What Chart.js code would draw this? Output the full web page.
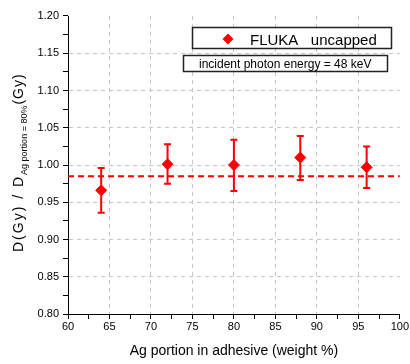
<!DOCTYPE html>
<html>
<head>
<meta charset="utf-8">
<script src="https://cdn.jsdelivr.net/npm/chart.js@4.4.1/dist/chart.umd.min.js"></script>
<style>
  html, body { margin: 0; padding: 0; background: #fff; }
  #wrap { width: 410px; height: 364px; }
</style>
</head>
<body>
<div id="wrap"><canvas id="chart" width="410" height="364"></canvas></div>
<script>
// ===== DATA =====
const agPortion  = [64, 72, 80, 88, 96];
const doseRatio  = [0.966, 1.001, 1.000, 1.010, 0.997];
const errLow     = [0.936, 0.975, 0.965, 0.980, 0.969];
const errHigh    = [0.996, 1.028, 1.034, 1.039, 1.025];
const meanLineX  = [60, 100];
const meanLineY  = [0.985, 0.985];
const xLimits    = [60, 100];
const yLimits    = [0.80, 1.20];
const legendLabel = "FLUKA   uncapped";
const noteLabel   = "incident photon energy = 48 keV";
const xTitle      = "Ag portion in adhesive (weight %)";
const yTitleMain  = "D(Gy) / D";
const yTitleSub   = "Ag portion = 80%";
const yTitleEnd   = "(Gy)";

const RED  = "#ff0000";
const GRID = "#c4c4c4";
const SANS = '"Liberation Sans", Arial, sans-serif';
const NARROW = '"Liberation Sans Narrow", "Liberation Sans", Arial, sans-serif';

// major ticks get grid lines, minor ones only a tick mark
function gridColor(ctx) {
  const n = ctx.scale.ticks.length;
  if (ctx.index === 0 || ctx.index === n - 1) return "rgba(0,0,0,0)";
  return ctx.index % 2 === 0 ? GRID : "rgba(0,0,0,0)";
}

// ===== PLUGINS =====
const errorBars = {
  id: "errorBars",
  beforeDatasetsDraw(chart) {
    const { ctx, scales: { x, y } } = chart;
    ctx.save();
    ctx.strokeStyle = RED;
    ctx.lineWidth = 2;
    agPortion.forEach((v, i) => {
      const px = x.getPixelForValue(v);
      const top = y.getPixelForValue(errHigh[i]);
      const bot = y.getPixelForValue(errLow[i]);
      ctx.beginPath();
      ctx.moveTo(px, top); ctx.lineTo(px, bot);
      ctx.moveTo(px - 3.5, top); ctx.lineTo(px + 3.5, top);
      ctx.moveTo(px - 3.5, bot); ctx.lineTo(px + 3.5, bot);
      ctx.stroke();
    });
    ctx.restore();
  }
};

const annotations = {
  id: "annotations",
  afterDraw(chart) {
    const ctx = chart.ctx;
    ctx.save();

    // legend box
    ctx.fillStyle = "#fff";
    ctx.fillRect(192, 27, 200, 22);
    ctx.strokeStyle = "#222";
    ctx.lineWidth = 1.5;
    ctx.strokeRect(192.5, 27.5, 199, 21);
    ctx.fillStyle = RED;
    ctx.beginPath();
    ctx.moveTo(228, 33.5); ctx.lineTo(233.5, 39); ctx.lineTo(228, 44.5); ctx.lineTo(222.5, 39);
    ctx.closePath(); ctx.fill();
    ctx.fillStyle = "#000";
    ctx.font = "15px " + SANS;
    ctx.textBaseline = "alphabetic";
    ctx.fillText(legendLabel, 250, 44.5, 130);

    // energy note
    ctx.fillStyle = "#fff";
    ctx.fillRect(183, 55, 205, 17);
    ctx.strokeStyle = "#222";
    ctx.lineWidth = 1.5;
    ctx.strokeRect(183.5, 55.5, 204, 16);
    ctx.fillStyle = "#000";
    ctx.font = "12px " + NARROW;
    ctx.fillText(noteLabel, 199, 68, 175);

    // y title with subscript
    ctx.translate(23, 252);
    ctx.rotate(-Math.PI / 2);
    let pos = 0;
    ctx.font = "14px " + SANS;
    ctx.letterSpacing = "2px";
    ctx.fillText(yTitleMain, pos, 0);
    pos += ctx.measureText(yTitleMain).width;
    ctx.font = "9px " + SANS;
    ctx.letterSpacing = "0px";
    ctx.fillText(yTitleSub, pos, 4);
    pos += ctx.measureText(yTitleSub).width + 1;
    ctx.font = "14px " + SANS;
    ctx.letterSpacing = "1px";
    ctx.fillText(yTitleEnd, pos, 0);

    ctx.restore();
  }
};

// ===== CHART =====
new Chart(document.getElementById("chart"), {
  type: "scatter",
  data: {
    datasets: [
      {
        type: "line",
        data: meanLineX.map((v, i) => ({ x: v, y: meanLineY[i] })),
        borderColor: RED,
        borderWidth: 2,
        borderDash: [6, 4],
        pointRadius: 0,
        fill: false
      },
      {
        data: agPortion.map((v, i) => ({ x: v, y: doseRatio[i] })),
        pointStyle: "rectRot",
        pointRadius: 5.5,
        pointHoverRadius: 5.5,
        backgroundColor: RED,
        borderColor: RED,
        borderWidth: 1
      }
    ]
  },
  options: {
    responsive: false,
    animation: false,
    layout: { padding: { top: 16, right: 7, left: 0, bottom: 0 } },
    plugins: { legend: { display: false }, tooltip: { enabled: false } },
    scales: {
      x: {
        type: "linear",
        min: xLimits[0], max: xLimits[1],
        afterFit: s => { s.height = 50; },
        afterBuildTicks: s => {
          s.ticks = [];
          for (let v = xLimits[0]; v <= xLimits[1] + 0.01; v += 2.5) s.ticks.push({ value: v });
        },
        ticks: {
          autoSkip: false, maxRotation: 0, padding: 1, color: "#000",
          font: { family: NARROW, size: 11 },
          callback: (v, i) => (i % 2 === 0 ? String(v) : "")
        },
        grid: { color: gridColor, tickColor: "#000", tickLength: 5, lineWidth: 1 },
        border: { color: "#000", width: 1, dash: [4, 4] },
        title: {
          display: true, text: xTitle, color: "#000",
          font: { family: SANS, size: 14 }, padding: { top: 0, bottom: 4 }
        }
      },
      y: {
        type: "linear",
        min: yLimits[0], max: yLimits[1],
        afterFit: s => { s.width = 68; },
        afterBuildTicks: s => {
          s.ticks = [];
          for (let k = 0; k <= 16; k++) s.ticks.push({ value: yLimits[0] + k * 0.025 });
        },
        ticks: {
          autoSkip: false, padding: 4, color: "#000",
          font: { family: NARROW, size: 11 },
          callback: (v, i) => (i % 2 === 0 ? Number(v).toFixed(2) : "")
        },
        grid: { color: gridColor, tickColor: "#000", tickLength: 5, lineWidth: 1 },
        border: { color: "#000", width: 1, dash: [4, 4] }
      }
    }
  },
  plugins: [errorBars, annotations]
});
</script>
</body>
</html>
